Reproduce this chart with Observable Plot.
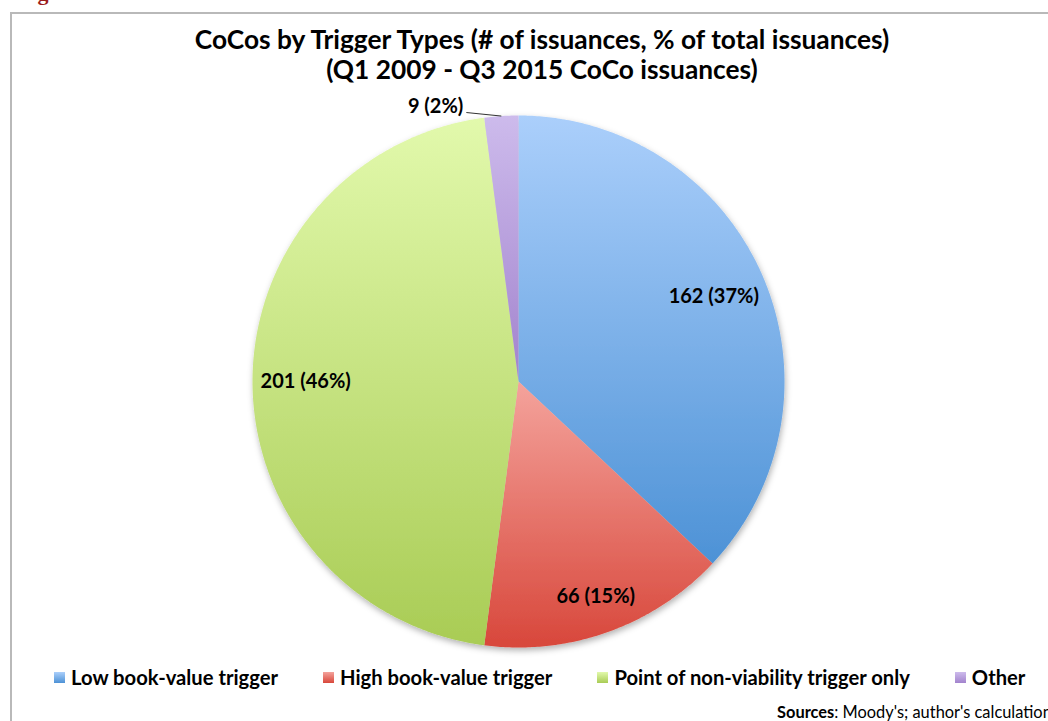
<!DOCTYPE html>
<html><head><meta charset="utf-8">
<script src="https://cdn.jsdelivr.net/npm/d3@7"></script>
<script src="https://cdn.jsdelivr.net/npm/@observablehq/plot@0.6"></script>
<style>
body{margin:0;background:#fff;font-family:Lato,"Open Sans",sans-serif;color:#000;}
#wrap{position:relative;width:1048px;height:721px;overflow:hidden;background:#fff;}
#frame{position:absolute;left:10px;top:12px;width:1200px;height:900px;border-left:2px solid #b9b9b9;border-top:2px solid #b9b9b9;}
#fig{position:absolute;left:18px;top:-18px;font:bold 22px/22px "Liberation Serif",serif;color:#9b1c1c;white-space:nowrap;}
#title{position:absolute;left:0;width:1084px;top:24px;text-align:center;font-weight:bold;font-size:26.3px;line-height:30px;white-space:nowrap;}
#chart{position:absolute;left:0;top:90px;}
#legend{position:absolute;top:665px;left:54px;display:flex;gap:45px;font-weight:bold;font-size:20.2px;white-space:nowrap;}
#legend .item{display:flex;align-items:center;}
#legend .sw{width:11px;height:11px;margin-right:6px;}
#sources{position:absolute;left:777px;top:702px;font-size:16.4px;white-space:nowrap;}
</style></head>
<body>
<div id="wrap">
  <div id="fig">Figure 1</div>
  <div id="frame"></div>
  <div id="title">CoCos by Trigger Types (# of issuances, % of total issuances)<br>(Q1 2009 - Q3 2015 CoCo issuances)</div>
  <div id="chart"></div>
  <div id="legend"></div>
  <div id="sources"><b>Sources</b>: Moody's; author's calculations</div>
</div>
<script>
const categories = ["Low book-value trigger", "High book-value trigger", "Point of non-viability trigger only", "Other"];
const counts = [162, 66, 201, 9];
const topColors = ["#abcffb", "#f4a39c", "#e2f9ac", "#cdbbec"];
const bottomColors = ["#4d92d6", "#d8473b", "#a9cc55", "#a283cd"];

const total = d3.sum(counts);
const arcs = d3.pie().sort(null).value(d => d)(counts);
const polar = (a, r) => [r * Math.sin(a), r * Math.cos(a)];

const slices = arcs.map((a, i) => {
  const n = Math.max(2, Math.ceil((a.endAngle - a.startAngle) / (Math.PI / 360)));
  const ring = [[0, 0]];
  for (let k = 0; k <= n; k++) ring.push(polar(a.startAngle + (a.endAngle - a.startAngle) * k / n, 1));
  ring.push([0, 0]);
  return {type: "Feature", properties: {i, category: categories[i]}, geometry: {type: "Polygon", coordinates: [ring]}};
});

const labels = arcs.map((a, i) => {
  const mid = (a.startAngle + a.endAngle) / 2;
  const frac = counts[i] / total;
  const outside = frac < 0.05;
  const r = frac < 0.2 ? 0.86 : 0.8;
  const [x, y] = outside ? polar(mid - 0.127, 1.03) : polar(mid, r);
  const [ex, ey] = polar(mid, 1);
  return {x, y, ex, ey, outside, text: `${counts[i]} (${Math.round(frac * 100)}%)`};
});

const defsMark = () => {
  const g = d3.create("svg:g");
  const defs = g.append("defs");
  categories.forEach((c, i) => {
    const lg = defs.append("linearGradient").attr("id", `slice-grad-${i}`)
      .attr("x1", 0).attr("y1", 0).attr("x2", 0).attr("y2", 1);
    lg.append("stop").attr("offset", "0%").attr("stop-color", topColors[i]);
    lg.append("stop").attr("offset", "100%").attr("stop-color", bottomColors[i]);
  });
  const f = defs.append("filter").attr("id", "pie-shadow")
    .attr("x", "-10%").attr("y", "-10%").attr("width", "120%").attr("height", "120%");
  f.append("feDropShadow").attr("dx", 1).attr("dy", 3).attr("stdDeviation", 3)
    .attr("flood-color", "#000").attr("flood-opacity", 0.3);
  return g.node();
};

const plot = Plot.plot({
  width: 1048,
  height: 570,
  marginLeft: 252,
  marginRight: 264,
  marginTop: 25,
  marginBottom: 13,
  projection: {type: "reflect-y", clip: false, domain: {type: "Polygon", coordinates: [[[-1, -1], [1, -1], [1, 1], [-1, 1], [-1, -1]]]}},
  color: {type: "identity"},
  style: {fontFamily: "Lato, 'Open Sans', sans-serif", background: "transparent", overflow: "visible"},
  marks: [
    defsMark,
    Plot.geo(slices, {fill: d => `url(#slice-grad-${d.properties.i})`, stroke: "none"}),
    Plot.link(labels.filter(d => d.outside), {x1: "x", y1: "y", x2: "ex", y2: "ey", stroke: "#333", strokeWidth: 1}),
    Plot.text(labels.filter(d => !d.outside), {x: "x", y: "y", text: "text", fontSize: 20, fontWeight: "bold", fill: "#000"}),
    Plot.text(labels.filter(d => d.outside), {x: "x", y: "y", text: "text", textAnchor: "end", dx: -3, dy: -6, fontSize: 20, fontWeight: "bold", fill: "#000"})
  ]
});
d3.select(plot).select('g[aria-label="geo"]').attr("filter", "url(#pie-shadow)");
document.getElementById("chart").appendChild(plot);

const legend = d3.select("#legend");
categories.forEach((c, i) => {
  const it = legend.append("div").attr("class", "item");
  it.append("div").attr("class", "sw").style("background", `linear-gradient(${topColors[i]}, ${bottomColors[i]})`);
  it.append("span").text(c);
});
</script>
</body></html>
